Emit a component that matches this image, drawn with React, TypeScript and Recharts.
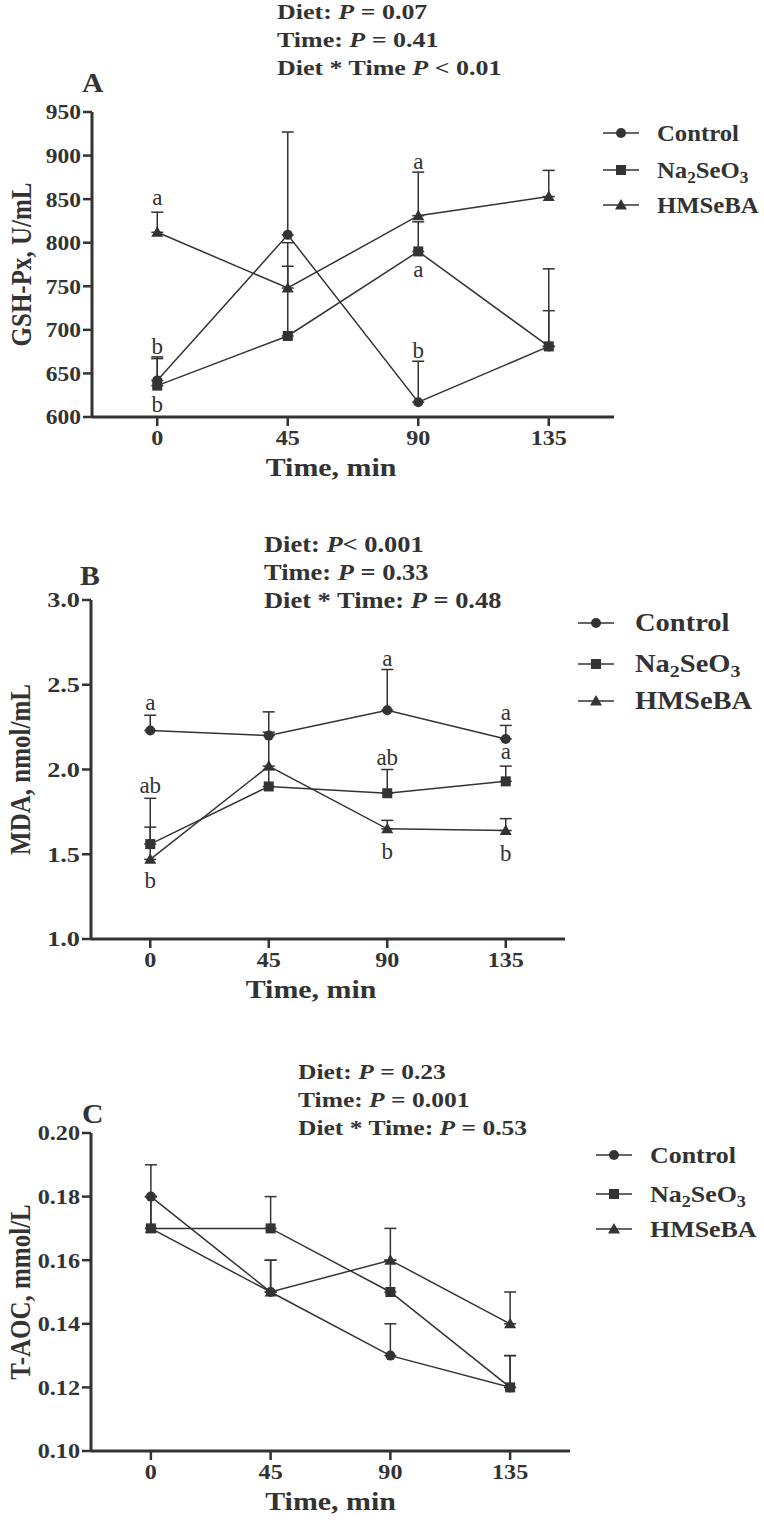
import React from 'react';
import { LineChart, Line, XAxis, YAxis, ErrorBar, ReferenceDot } from 'recharts';

// ---------- data ----------
const times = [0, 45, 90, 135];
const timeTicks = [0, 45, 90, 135];

// Panel A: GSH-Px, U/mL
const gshControl = [642, 809, 617, 681];
const gshControlErr = [27, 118, 47, 41];
const gshNa = [636, 693, 790, 681];
const gshNaErr = [31, 107, 34, 89];
const gshHm = [812, 748, 831, 853];
const gshHmErr = [23, 25, 50, 30];
const gshTicks = [600, 650, 700, 750, 800, 850, 900, 950];
const gshLetters = [
  { t: 0, v: 851, text: 'a' },
  { t: 0, v: 680, text: 'b' },
  { t: 0, v: 614, text: 'b' },
  { t: 90, v: 892, text: 'a' },
  { t: 90, v: 769, text: 'a' },
  { t: 90, v: 676, text: 'b' },
];

// Panel B: MDA, nmol/mL
const mdaControl = [2.23, 2.2, 2.35, 2.18];
const mdaControlErr = [0.09, 0.14, 0.24, 0.08];
const mdaNa = [1.56, 1.9, 1.86, 1.93];
const mdaNaErr = [0.27, 0.1, 0.14, 0.09];
const mdaHm = [1.47, 2.02, 1.65, 1.64];
const mdaHmErr = [0.19, 0.2, 0.05, 0.07];
const mdaTicks = [1.0, 1.5, 2.0, 2.5, 3.0];
const mdaLetters = [
  { t: 0, v: 2.39, text: 'a' },
  { t: 0, v: 1.9, text: 'ab' },
  { t: 0, v: 1.34, text: 'b' },
  { t: 90, v: 2.65, text: 'a' },
  { t: 90, v: 2.07, text: 'ab' },
  { t: 90, v: 1.51, text: 'b' },
  { t: 135, v: 2.33, text: 'a' },
  { t: 135, v: 2.1, text: 'a' },
  { t: 135, v: 1.5, text: 'b' },
];

// Panel C: T-AOC, mmol/L
const aocControl = [0.18, 0.15, 0.13, 0.12];
const aocControlErr = [0.01, 0.01, 0.01, 0.01];
const aocNa = [0.17, 0.17, 0.15, 0.12];
const aocNaErr = [0.01, 0.01, 0.01, 0.01];
const aocHm = [0.17, 0.15, 0.16, 0.14];
const aocHmErr = [0.01, 0.01, 0.01, 0.01];
const aocTicks = [0.1, 0.12, 0.14, 0.16, 0.18, 0.2];

// ---------- style ----------
const INK = '#333333';
const SERIF = "'Liberation Serif', 'Times New Roman', serif";

function rows(c: number[], ce: number[], n: number[], ne: number[], h: number[], he: number[]) {
  return times.map((t, i) => ({
    t,
    control: c[i],
    controlErr: [0, ce[i]],
    na: n[i],
    naErr: [0, ne[i]],
    hm: h[i],
    hmErr: [0, he[i]],
  }));
}

const CircleDot = (p: any) =>
  p.cx == null ? null : <circle key={`c-${p.index}`} cx={p.cx} cy={p.cy} r={5} fill={INK} />;
const SquareDot = (p: any) =>
  p.cx == null ? null : <rect key={`s-${p.index}`} x={p.cx - 5} y={p.cy - 5} width={10} height={10} fill={INK} />;
const TriDot = (p: any) =>
  p.cx == null ? null : (
    <path key={`t-${p.index}`} d={`M${p.cx},${p.cy - 6} L${p.cx + 6},${p.cy + 4.5} L${p.cx - 6},${p.cy + 4.5} Z`} fill={INK} />
  );

const YTick = (fmt: (v: number) => string, sx: number) => (p: any) => (
  <text
    transform={`translate(${p.x} ${p.y}) scale(${sx} 1)`}
    x={0}
    y={0}
    dy="0.35em"
    textAnchor="end"
    fontFamily={SERIF}
    fontWeight="bold"
    fontSize={21}
    fill={INK}
  >
    {fmt(p.payload.value)}
  </text>
);

const XTick = (p: any) => (
  <text
    transform={`translate(${p.x} ${p.y}) scale(1.15 1)`}
    x={0}
    y={0}
    dy="0.8em"
    textAnchor="middle"
    fontFamily={SERIF}
    fontWeight="bold"
    fontSize={21}
    fill={INK}
  >
    {p.payload.value}
  </text>
);

const letterShape = (text: string) => (p: any) => (
  <text x={p.cx} y={p.cy} dy="0.3em" textAnchor="middle" fontFamily={SERIF} fontSize={23} fill={INK}>
    {text}
  </text>
);

type PanelProps = {
  top: number;
  height: number;
  margin: { top: number; right: number; bottom: number; left: number };
  data: any[];
  domain: [number, number];
  ticks: number[];
  fmt: (v: number) => string;
  tickSx: number;
  yLabel: string;
  xLabelDx: number;
  letters: { t: number; v: number; text: string }[];
};

function Panel(props: PanelProps) {
  const { top, height, margin, data, domain, ticks, fmt, tickSx, yLabel, xLabelDx, letters } = props;
  return (
    <div style={{ position: 'absolute', left: 0, top }}>
      <LineChart width={764} height={height} data={data} margin={margin}>
        <XAxis
          dataKey="t"
          type="number"
          domain={[-22.5, 157.5]}
          ticks={timeTicks}
          interval={0}
          height={60}
          axisLine={{ stroke: INK, strokeWidth: 3 }}
          tickLine={{ stroke: INK, strokeWidth: 2.5 }}
          tickSize={9}
          tick={XTick}
          label={{
            content: (lp: any) => {
              const vb = lp.viewBox;
              const x = vb.x + vb.width / 2 + xLabelDx;
              const y = vb.y + 59;
              return (
                <text
                  transform={`translate(${x} ${y}) scale(1.15 1)`}
                  x={0}
                  y={0}
                  textAnchor="middle"
                  fontFamily={SERIF}
                  fontWeight="bold"
                  fontSize={26}
                  fill={INK}
                >
                  Time, min
                </text>
              );
            },
          }}
        />
        <YAxis
          type="number"
          domain={domain}
          ticks={ticks}
          interval={0}
          width={80}
          axisLine={{ stroke: INK, strokeWidth: 3 }}
          tickLine={{ stroke: INK, strokeWidth: 2.5 }}
          tickSize={9}
          tick={YTick(fmt, tickSx)}
          label={{
            content: (lp: any) => {
              const vb = lp.viewBox;
              const cx = vb.x + 9;
              const cy = vb.y + vb.height / 2;
              return (
                <text
                  transform={`translate(${cx} ${cy}) rotate(-90) scale(1 1.15)`}
                  x={0}
                  y={0}
                  textAnchor="middle"
                  dominantBaseline="central"
                  fontFamily={SERIF}
                  fontWeight="bold"
                  fontSize={25}
                  fill={INK}
                >
                  {yLabel}
                </text>
              );
            },
          }}
        />
        <Line dataKey="control" stroke={INK} strokeWidth={1.5} dot={CircleDot} isAnimationActive={false}>
          <ErrorBar dataKey="controlErr" direction="y" width={6} stroke={INK} strokeWidth={1.5} />
        </Line>
        <Line dataKey="na" stroke={INK} strokeWidth={1.5} dot={SquareDot} isAnimationActive={false}>
          <ErrorBar dataKey="naErr" direction="y" width={6} stroke={INK} strokeWidth={1.5} />
        </Line>
        <Line dataKey="hm" stroke={INK} strokeWidth={1.5} dot={TriDot} isAnimationActive={false}>
          <ErrorBar dataKey="hmErr" direction="y" width={6} stroke={INK} strokeWidth={1.5} />
        </Line>
        {letters.map((l, i) => (
          <ReferenceDot key={i} x={l.t} y={l.v} r={0} shape={letterShape(l.text)} />
        ))}
      </LineChart>
    </div>
  );
}

const textBase: React.CSSProperties = {
  position: 'absolute',
  fontFamily: SERIF,
  fontWeight: 'bold',
  color: INK,
  whiteSpace: 'nowrap',
  lineHeight: '28px',
};

function Stretch({ sx, children }: { sx: number; children: React.ReactNode }) {
  return (
    <span style={{ display: 'inline-block', transform: `scaleX(${sx})`, transformOrigin: 'left center' }}>{children}</span>
  );
}

function Stats({ left, top, lines, size, sx }: { left: number; top: number; lines: React.ReactNode[]; size: number; sx: number }) {
  return (
    <>
      {lines.map((l, i) => (
        <div key={i} style={{ ...textBase, left, top: top + i * 28 - 14, fontSize: size }}>
          <Stretch sx={sx}>{l}</Stretch>
        </div>
      ))}
    </>
  );
}

const P = <i>P</i>;

function Marker({ kind }: { kind: string }) {
  return (
    <svg width={36} height={14} style={{ display: 'block' }}>
      <line x1={0} y1={7} x2={36} y2={7} stroke={INK} strokeWidth={1.5} />
      {kind === 'c' && <circle cx={18} cy={7} r={5} fill={INK} />}
      {kind === 's' && <rect x={13} y={2} width={10} height={10} fill={INK} />}
      {kind === 't' && <path d="M18,1 L24,11.5 L12,11.5 Z" fill={INK} />}
    </svg>
  );
}

const subStyle: React.CSSProperties = { fontSize: '0.7em', verticalAlign: '-0.3em' };
const legendItems = [
  { kind: 'c', label: <>Control</> },
  { kind: 's', label: <>Na<sub style={subStyle}>2</sub>SeO<sub style={subStyle}>3</sub></> },
  { kind: 't', label: <>HMSeBA</> },
];

function LegendBox({ lineX, textX, ys, size, sx }: { lineX: number; textX: number; ys: number[]; size: number; sx: number }) {
  return (
    <>
      {legendItems.map((it, i) => (
        <React.Fragment key={i}>
          <div style={{ position: 'absolute', left: lineX, top: ys[i] - 7 }}>
            <Marker kind={it.kind} />
          </div>
          <div style={{ ...textBase, left: textX, top: ys[i] - 15, fontSize: size, lineHeight: '30px' }}>
            <Stretch sx={sx}>{it.label}</Stretch>
          </div>
        </React.Fragment>
      ))}
    </>
  );
}

const panelLetter = (t: string, left: number, cy: number) => (
  <div style={{ ...textBase, left, top: cy - 14, fontSize: 27 }}>
    <Stretch sx={1.1}>{t}</Stretch>
  </div>
);

export default function App() {
  const dataA = rows(gshControl, gshControlErr, gshNa, gshNaErr, gshHm, gshHmErr);
  const dataB = rows(mdaControl, mdaControlErr, mdaNa, mdaNaErr, mdaHm, mdaHmErr);
  const dataC = rows(aocControl, aocControlErr, aocNa, aocNaErr, aocHm, aocHmErr);
  return (
    <div style={{ position: 'absolute', left: 0, top: 0, width: 764, height: 1527, background: '#fff', overflow: 'hidden' }}>
      <Panel
        top={0}
        height={500}
        margin={{ top: 112, right: 150, bottom: 23, left: 12 }}
        data={dataA}
        domain={[600, 950]}
        ticks={gshTicks}
        fmt={(v) => String(v)}
        tickSx={1.12}
        yLabel="GSH-Px, U/mL"
        xLabelDx={-22}
        letters={gshLetters}
      />
      <Panel
        top={500}
        height={530}
        margin={{ top: 100, right: 199, bottom: 31, left: 11 }}
        data={dataB}
        domain={[1, 3]}
        ticks={mdaTicks}
        fmt={(v) => v.toFixed(1)}
        tickSx={1.25}
        yLabel="MDA, nmol/mL"
        xLabelDx={-17}
        letters={mdaLetters}
      />
      <Panel
        top={1030}
        height={497}
        margin={{ top: 103, right: 194, bottom: 16, left: 11 }}
        data={dataC}
        domain={[0.1, 0.2]}
        ticks={aocTicks}
        fmt={(v) => v.toFixed(2)}
        tickSx={1.15}
        yLabel="T-AOC, mmol/L"
        xLabelDx={0}
        letters={[]}
      />

      <Stats
        left={277}
        top={12}
        size={22}
        sx={1.18}
        lines={[
          <>Diet: {P} = 0.07</>,
          <>Time: {P} = 0.41</>,
          <>Diet * Time {P} &lt; 0.01</>,
        ]}
      />
      <Stats
        left={264}
        top={545}
        size={23}
        sx={1.15}
        lines={[
          <>Diet: {P}&lt; 0.001</>,
          <>Time: {P} = 0.33</>,
          <>Diet * Time: {P} = 0.48</>,
        ]}
      />
      <Stats
        left={298}
        top={1072}
        size={22}
        sx={1.16}
        lines={[
          <>Diet: {P} = 0.23</>,
          <>Time: {P} = 0.001</>,
          <>Diet * Time: {P} = 0.53</>,
        ]}
      />

      {panelLetter('A', 82, 83)}
      {panelLetter('B', 80, 576)}
      {panelLetter('C', 82, 1114)}

      <LegendBox lineX={603} textX={657} ys={[133, 170, 205]} size={24} sx={1.03} />
      <LegendBox lineX={578} textX={635} ys={[623, 664, 701]} size={25} sx={1.14} />
      <LegendBox lineX={596} textX={650} ys={[1155, 1194, 1229]} size={24} sx={1.08} />
    </div>
  );
}
